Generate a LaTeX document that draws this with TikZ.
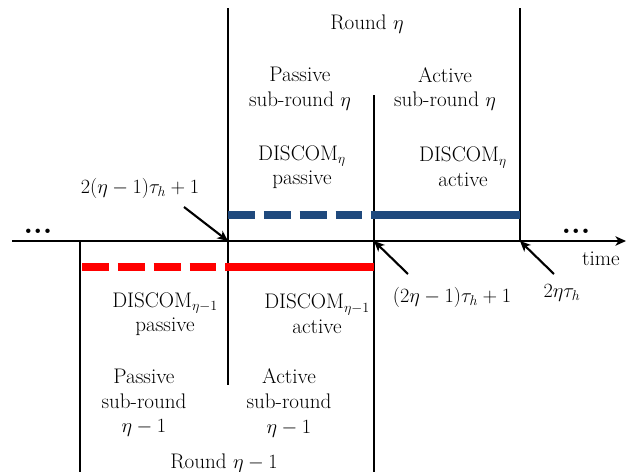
\documentclass[tikz,border=0pt]{standalone}
\usepackage{amsmath}
\usepackage{tikz}
\usetikzlibrary{arrows.meta}
\definecolor{roundblue}{RGB}{31,73,125}

\begin{document}
\begin{tikzpicture}[x=0.03cm,y=-0.03cm,>={Stealth[length=9pt,width=8pt,inset=2.5pt]},semithick]
\tikzstyle{every node}=[font=\fontsize{18}{21}\selectfont,align=center,inner sep=0pt]
\tikzstyle{bar}=[line width=2.5pt]
\tikzstyle{phase}=[line width=6.6pt]
\tikzstyle{dashphase}=[phase,dash pattern=on 23pt off 7.6pt]
\tikzstyle{pointer}=[->,line width=1.8pt]
\tikzstyle{more}=[font=\fontsize{26}{26}\bfseries]
\useasboundingbox (0,0) rectangle (631,472);
% time axis and round boundaries
\coordinate (start) at (12,241);
\coordinate (end) at (626,241);
\coordinate (b0) at (80,241);
\coordinate (b1) at (228,241);
\coordinate (b2) at (374,241);
\coordinate (b3) at (520,241);
\draw[->,bar] (start) -- (end);
\draw[bar] (b0) -- (80,472);
\draw[bar] (228,8) -- (228,385);
\draw[bar] (374,95) -- (374,472);
\draw[bar] (b3) -- (520,8);
% DISCOM phases
\draw[dashphase,roundblue] (228,215) -- (374,215);
\draw[phase,roundblue] (372,215) -- (520,215);
\draw[dashphase,red] (82,267) -- (228,267);
\draw[phase,red] (226,267) -- (374,267);
% labels
\node (rnd) at (367,24) {Round $\eta$};
\node (psub) at (300,89) {Passive\\sub-round $\eta$};
\node (asub) at (445,89) {Active\\sub-round $\eta$};
\node (pdis) at (302,167) {DISCOM$_\eta$\\passive};
\node (adis) at (463,167) {DISCOM$_\eta$\\active};
\node (pdisold) at (165,314) {DISCOM$_{\eta-1}$\\passive};
\node (adisold) at (317,314) {DISCOM$_{\eta-1}$\\active};
\node (psubold) at (144,403) {Passive\\sub-round\\$\eta-1$};
\node (asubold) at (289,403) {Active\\sub-round\\$\eta-1$};
\node (rndold) at (224,463) {Round $\eta-1$};
\node (time) at (601,259) {time};
\node[more] (dotsl) at (38,231) {...};
\node[more] (dotsr) at (576,231) {...};
% time instants
\node (t1) at (140,188) {$2(\eta-1)\tau_h+1$};
\node (t2) at (452,297) {$(2\eta-1)\tau_h+1$};
\node (t3) at (562,293) {$2\eta\tau_h$};
\coordinate (p1) at (184,207);
\coordinate (p2) at (408,274);
\coordinate (p3) at (554,274);
\draw[pointer] (p1) -- (b1);
\draw[pointer] (p2) -- (b2);
\draw[pointer] (p3) -- (b3);
\end{tikzpicture}
\end{document}
